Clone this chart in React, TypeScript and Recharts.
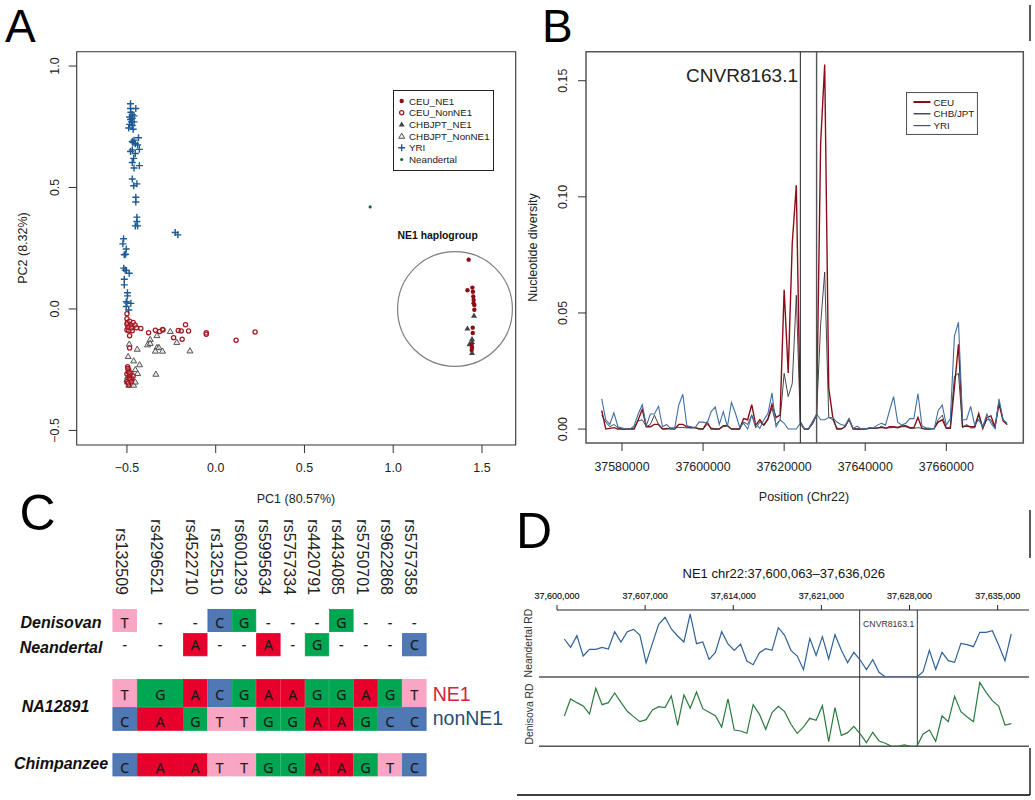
import React from 'react';
import {
  ScatterChart, Scatter, LineChart, Line, XAxis, YAxis, ReferenceArea, ReferenceDot, ReferenceLine, Legend,
} from 'recharts';

const FONT = '"Liberation Sans", Arial, sans-serif';

// ---------- Panel A ----------
const yriPoints = [
  [-0.48,0.845],[-0.45,0.825],[-0.48,0.825],[-0.47,0.8],[-0.485,0.79],[-0.46,0.795],[-0.48,0.78],[-0.46,0.77],[-0.485,0.76],[-0.47,0.755],[-0.49,0.745],[-0.465,0.74],[-0.475,0.77],[-0.47,0.785],[-0.478,0.81],
  [-0.47,0.69],[-0.46,0.695],[-0.435,0.705],[-0.453,0.68],[-0.44,0.675],[-0.43,0.657],[-0.48,0.648],[-0.453,0.64],[-0.462,0.62],[-0.47,0.603],[-0.43,0.59],[-0.46,0.58],[-0.466,0.685],[-0.47,0.655],
  [-0.47,0.535],[-0.444,0.515],[-0.462,0.507],[-0.45,0.46],[-0.45,0.44],[-0.444,0.378],[-0.444,0.36],[-0.453,0.342],[-0.44,0.342],
  [-0.228,0.315],[-0.213,0.305],
  [-0.519,0.289],[-0.523,0.268],[-0.504,0.247],[-0.515,0.223],[-0.508,0.225],
  [-0.518,0.168],[-0.504,0.158],[-0.487,0.147],[-0.515,0.122],[-0.515,0.099],[-0.497,0.067],[-0.497,0.054],[-0.504,0.03],[-0.478,0.023],[-0.504,0.01],[-0.49,-0.004],[-0.51,0.16],[-0.5,0.025],
];
const ceuNonNe1Points = [
  [-0.5,-0.02],[-0.5,-0.04],[-0.497,-0.056],[-0.49,-0.07],[-0.5,-0.087],[-0.485,-0.11],[-0.478,-0.066],[-0.465,-0.056],[-0.454,-0.066],[-0.446,-0.077],[-0.422,-0.08],[-0.47,-0.09],[-0.49,-0.09],[-0.495,-0.075],[-0.5,-0.062],[-0.485,-0.05],[-0.475,-0.078],
  [-0.378,-0.098],[-0.34,-0.088],[-0.316,-0.093],[-0.297,-0.087],[-0.299,-0.084],[-0.211,-0.089],[-0.194,-0.091],[-0.17,-0.065],[-0.153,-0.091],[-0.237,-0.118],[-0.189,-0.125],[-0.053,-0.098],[-0.053,-0.104],[0.115,-0.129],[0.222,-0.095],[-0.485,-0.161],
  [-0.496,-0.238],[-0.49,-0.25],[-0.5,-0.268],[-0.485,-0.276],[-0.472,-0.286],[-0.465,-0.276],[-0.48,-0.295],[-0.49,-0.313],[-0.493,-0.258],[-0.478,-0.265],[-0.488,-0.285],[-0.5,-0.3],[-0.495,-0.245],[-0.487,-0.262],[-0.483,-0.29],[-0.492,-0.305],[-0.475,-0.3],
];
const chbNonNe1Points = [
  [-0.487,-0.144],[-0.442,-0.165],[-0.493,-0.195],[-0.462,-0.213],[-0.429,-0.229],[-0.453,-0.249],[-0.44,-0.265],[-0.337,-0.268],[-0.331,-0.109],[-0.369,-0.125],[-0.384,-0.147],[-0.369,-0.141],[-0.331,-0.158],[-0.32,-0.158],[-0.34,-0.173],[-0.3,-0.173],[-0.256,-0.092],[-0.219,-0.137],[-0.145,-0.172],[-0.496,-0.279],[-0.496,-0.3],[-0.462,-0.313],[-0.49,-0.313],[-0.453,-0.3],[-0.5,-0.29],
];
const ceuNe1Points = [
  [1.425,0.203],[1.446,0.088],[1.418,0.077],[1.449,0.071],[1.451,0.051],[1.453,0.037],[1.453,0.023],[1.457,0.016],[1.457,-0.003],[1.448,-0.077],[1.448,-0.099],[1.442,-0.148],[1.444,-0.159],[1.442,-0.169],
];
const chbNe1Points = [
  [1.455,-0.027],[1.418,-0.08],[1.444,-0.124],[1.43,-0.144],[1.444,-0.135],[1.444,-0.18],
];
const neandertalPoints = [[0.87, 0.42]];
const pcXTicks = [-0.5, 0, 0.5, 1, 1.5];
const pcYTicks = [-0.5, 0, 0.5, 1];
const haplogroupCircle = { x: 1.348, y: 0 };

const RED = '#8b0d18';
const BLUE = '#1f5a96';
const GREY = '#555555';
const GREEN = '#0b6b2c';

const toXY = (pts: number[][]) => pts.map(([x, y]) => ({ x, y }));

type Kind = 'filledCircle' | 'openCircle' | 'filledTri' | 'openTri' | 'plus' | 'dot';
const Marker = ({ kind, cx, cy }: { kind: Kind; cx: number; cy: number }) => {
  const tri = `M${cx},${cy - 3} L${cx + 3},${cy + 2.2} L${cx - 3},${cy + 2.2} Z`;
  switch (kind) {
    case 'filledCircle': return <circle cx={cx} cy={cy} r={2.2} fill={RED} />;
    case 'openCircle': return <circle cx={cx} cy={cy} r={2.1} fill="#fff" fillOpacity={0.2} stroke="#a3151f" strokeWidth={1.25} />;
    case 'filledTri': return <path d={tri} fill="#444" />;
    case 'openTri': return <path d={tri} fill="#ddd" fillOpacity={0.6} stroke={GREY} strokeWidth={1} />;
    case 'plus': return <path d={`M${cx - 3.5},${cy} H${cx + 3.5} M${cx},${cy - 3.5} V${cy + 3.5}`} stroke={BLUE} strokeWidth={1.4} fill="none" />;
    default: return <circle cx={cx} cy={cy} r={1.6} fill={GREEN} />;
  }
};
const shapeOf = (kind: Kind) => (p: any) => <Marker kind={kind} cx={p.cx} cy={p.cy} />;

const pcLegend: [Kind, string][] = [
  ['filledCircle', 'CEU_NE1'], ['openCircle', 'CEU_NonNE1'], ['filledTri', 'CHBJPT_NE1'],
  ['openTri', 'CHBJPT_NonNE1'], ['plus', 'YRI'], ['dot', 'Neandertal'],
];

const PcLegendBox = () => (
  <svg width={101} height={81} style={{ display: 'block' }}>
    <rect x={0.5} y={0.5} width={100} height={80} fill="#fff" stroke="#222" strokeWidth={1} />
    {pcLegend.map(([k, t], i) => (
      <g key={t}>
        <Marker kind={k} cx={8.7} cy={11 + i * 11.7} />
        <text x={16} y={11 + i * 11.7} dominantBaseline="central" fontSize={9.8} fontFamily={FONT} fill="#222">{t}</text>
      </g>
    ))}
  </svg>
);

const XTick = ({ x, y, payload, dy, fmt }: any) => (
  <text x={x} y={y + dy} textAnchor="middle" dominantBaseline="central" fontSize={12.4} fontFamily={FONT} fill="#222">
    {fmt ? fmt(payload.value) : payload.value}
  </text>
);
const YTick = ({ x, y, payload, dx, fmt }: any) => (
  <text x={x + dx} y={y} textAnchor="middle" dominantBaseline="central" fontSize={12.4} fontFamily={FONT} fill="#222"
    transform={`rotate(-90 ${x + dx} ${y})`}>
    {fmt(payload.value)}
  </text>
);
const AxisTitle = ({ tx, ty, rotate, text }: any) => (
  <text x={tx} y={ty} textAnchor="middle" dominantBaseline="central" fontSize={12.5} fontFamily={FONT} fill="#222"
    transform={rotate ? `rotate(-90 ${tx} ${ty})` : undefined}>
    {text}
  </text>
);
const pcFmtX = (v: number) => (v < 0 ? `\u2212${Math.abs(v).toFixed(1)}` : v.toFixed(1));

const PanelA = () => (
  <div style={{ position: 'absolute', left: 0, top: 0 }}>
    <ScatterChart width={525} height={515} margin={{ top: 51.7, left: 16.7, right: 9.3, bottom: 40 }}>
      <XAxis type="number" dataKey="x" domain={[-0.783, 1.69]} ticks={pcXTicks} interval={0} allowDataOverflow
        height={30} axisLine={false} tickSize={8} tickLine={{ stroke: '#333' }} tickMargin={0}
        tick={<XTick dy={15} fmt={pcFmtX} />}
        label={<AxisTitle tx={296} ty={499} text="PC1 (80.57%)" />} />
      <YAxis type="number" dataKey="y" domain={[-0.56, 1.059]} ticks={pcYTicks} interval={0} allowDataOverflow
        width={60} axisLine={false} tickSize={8} tickLine={{ stroke: '#333' }} tickMargin={0}
        tick={<YTick dx={-13.7} fmt={pcFmtX} />}
        label={<AxisTitle tx={23} ty={248} rotate text="PC2 (8.32%)" />} />
      <ReferenceArea x1={-0.783} x2={1.69} y1={-0.56} y2={1.059} fill="none" stroke="#333" strokeWidth={1.1} fillOpacity={0} />
      <ReferenceDot x={haplogroupCircle.x} y={haplogroupCircle.y} r={57.4} fill="none" stroke="#808080" strokeWidth={1.2} />
      <Scatter name="YRI" data={toXY(yriPoints)} shape={shapeOf('plus')} isAnimationActive={false} />
      <Scatter name="CHBJPT_NonNE1" data={toXY(chbNonNe1Points)} shape={shapeOf('openTri')} isAnimationActive={false} />
      <Scatter name="CEU_NonNE1" data={toXY(ceuNonNe1Points)} shape={shapeOf('openCircle')} isAnimationActive={false} />
      <Scatter name="CHBJPT_NE1" data={toXY(chbNe1Points)} shape={shapeOf('filledTri')} isAnimationActive={false} />
      <Scatter name="CEU_NE1" data={toXY(ceuNe1Points)} shape={shapeOf('filledCircle')} isAnimationActive={false} />
      <Scatter name="Neandertal" data={toXY(neandertalPoints)} shape={shapeOf('dot')} isAnimationActive={false} />
      <Legend layout="vertical" align="center" verticalAlign="middle" content={<PcLegendBox />}
        wrapperStyle={{ left: 393, top: 90, width: 101, height: 81 }} />
    </ScatterChart>
  </div>
);

// ---------- Panel B ----------
const diversityStart = 37575000;
const diversityStep = 1000;
const ceuDiversity = [
  .008,0,.0003,.0006,0,0,0,0,0,.004,.0085,.001,.001,.002,.002,0,.0003,0,0,.002,.002,.001,.0007,.0007,0,0,.003,0,0,0,.0015,.0015,0,0,0,.0045,.004,.0105,.0017,.004,.0017,.0045,.0107,.005,.006,.06,.0242,.08,.105,.003,0,0,.003,.006,.123,.157,.0175,.005,0,0,.001,.0043,0,0,0,0,.0003,.0003,.0005,.0007,.0003,.001,.001,.0007,.0013,.0014,.0006,.0006,.005,.0003,0,0,.0003,.003,.004,.0003,.0003,.018,.0365,.001,.0013,.001,.001,.0067,.0003,.005,.0057,.001,.011,.0035,.002,
];
const chbDiversity = [
  .006,.003,.001,.002,.0005,0,0,0,.0005,.0035,.004,.001,.002,.006,.002,0,0,.0005,.0005,.0007,.0007,.0005,.0005,.0005,.0003,0,.002,.0005,0,0,.001,.0013,0,0,0,.003,.002,.006,.0005,.003,.0015,.004,.009,.002,.004,.024,.014,.0196,.0576,.002,0,0,.002,.006,.045,.0676,.005,.004,.0005,0,.001,.004,.0003,0,0,0,.0003,.0003,.0003,.0012,.0005,.0005,.0007,.0005,.001,.001,.0003,.0003,.0006,.0003,0,0,.0003,.004,.006,.0003,.001,.0228,.024,.0006,.002,.0005,.0005,.006,.0005,.004,.004,.0003,.012,.004,.002,
];
const yriDiversity = [
  .013,.004,.002,.007,.001,.0005,0,0,.0015,.0065,.0105,.0015,.0065,.0065,.0098,.001,.002,.0003,.0003,.0103,.015,.0014,.001,.0005,.003,.003,.0025,.0075,.0095,.002,.0075,.001,.0115,.0067,.001,.0025,0,.006,.0025,.0003,.004,.0067,.0156,.001,.004,.0025,0,0,0,.0025,.0003,0,.003,.0065,.004,.004,.005,.005,.003,.002,.0015,.0045,.0003,.0013,0,0,.0007,.0005,.0017,.0025,.0017,.008,.014,.003,.0017,.0025,.0045,.0045,.0153,.0013,.0006,.0003,0,.008,.0103,.0017,.0045,.04,.046,.004,.004,.0098,.0017,.004,.001,.0065,.0025,.0003,.013,.004,.0025,
];
const diversityRows = yriDiversity.map((yri, i) => ({
  pos: diversityStart + i * diversityStep, ceu: ceuDiversity[i], chb: chbDiversity[i], yri,
}));
const posTicks = [37580000, 37600000, 37620000, 37640000, 37660000];
const divTicks = [0, 0.05, 0.1, 0.15];
const cnvBounds = [37624000, 37628000];
const divLegend = [
  { name: 'CEU', color: RED, w: 2 },
  { name: 'CHB/JPT', color: '#222', w: 1.2 },
  { name: 'YRI', color: BLUE, w: 1.2 },
];
const DivLegendBox = () => (
  <svg width={72} height={43} style={{ display: 'block' }}>
    <rect x={0.5} y={0.5} width={71} height={42} fill="#fff" stroke="#555" strokeWidth={1.1} />
    {divLegend.map((l, i) => (
      <g key={l.name}>
        <line x1={7.5} x2={24.5} y1={10 + i * 11.8} y2={10 + i * 11.8} stroke={l.color} strokeWidth={l.w} />
        <text x={27.5} y={10 + i * 11.8} dominantBaseline="central" fontSize={9.8} fontFamily={FONT} fill="#222">{l.name}</text>
      </g>
    ))}
  </svg>
);

const PanelB = () => (
  <div style={{ position: 'absolute', left: 525, top: 0 }}>
    <LineChart width={510} height={515} data={diversityRows} margin={{ top: 51.7, left: 11, right: 11.7, bottom: 42 }}>
      <XAxis type="number" dataKey="pos" domain={[37571122, 37678990]} ticks={posTicks} interval={0} allowDataOverflow
        height={30} axisLine={false} tickSize={8} tickLine={{ stroke: '#333' }} tickMargin={0}
        tick={<XTick dy={16} />}
        label={<AxisTitle tx={279} ty={497} text="Position (Chr22)" />} />
      <YAxis type="number" domain={[-0.006, 0.1625]} ticks={divTicks} interval={0} allowDataOverflow
        width={50} axisLine={false} tickSize={8} tickLine={{ stroke: '#333' }} tickMargin={0}
        tick={<YTick dx={-15} fmt={(v: number) => v.toFixed(2)} />}
        label={<AxisTitle tx={8} ty={247.5} rotate text="Nucleotide diversity" />} />
      <ReferenceArea x1={37571122} x2={37678990} y1={-0.006} y2={0.1625} fill="none" fillOpacity={0} stroke="#555" strokeWidth={1.5} />
      <Line dataKey="ceu" stroke={RED} strokeWidth={1.4} dot={false} isAnimationActive={false} />
      <Line dataKey="chb" stroke="#333" strokeWidth={0.9} dot={false} isAnimationActive={false} />
      <Line dataKey="yri" stroke="#3f6fa3" strokeWidth={1.1} dot={false} isAnimationActive={false} />
      <ReferenceLine x={cnvBounds[0]} stroke="#333" strokeWidth={1.1} />
      <ReferenceLine x={cnvBounds[1]} stroke="#555" strokeWidth={1.4} />
      <Legend layout="vertical" align="center" verticalAlign="middle" content={<DivLegendBox />}
        wrapperStyle={{ left: 380.5, top: 92, width: 72, height: 43 }} />
    </LineChart>
  </div>
);

// ---------- Panel C ----------
const rsIds = ['rs132509','rs4296521','rs4522710','rs132510','rs6001293','rs5995634','rs5757334','rs4420791','rs4434085','rs5750701','rs9622868','rs5757358'];
const columnPos = [0, 1.463, 2.902, 3.906, 4.906, 5.906, 6.906, 7.906, 8.906, 9.906, 10.906, 11.906];
const columnSpan = [1, 1.92, 1, 1, 1, 1, 1, 1, 1, 1, 1, 1];
const denisovan = ['T','-','-','C','G','-','-','-','G','-','-','-'];
const neandertal = ['-','-','A','-','-','A','-','G','-','-','-','C'];
const na12891Ne1 = ['T','G','A','C','G','A','A','G','G','A','G','T'];
const na12891Non = ['C','A','G','T','T','G','G','A','A','G','C','C'];
const chimpanzee = ['C','A','A','T','T','G','G','A','A','G','T','C'];
const seqRows = [
  { bases: denisovan, y: 0.863, h: 0.97, ty: 0.07 },
  { bases: neandertal, y: 1.883, h: 0.97, ty: 0 },
  { bases: na12891Ne1, y: 3.916, h: 1.18, ty: 0.05 },
  { bases: na12891Non, y: 5.01, h: 0.99, ty: 0.1 },
  { bases: chimpanzee, y: 6.94, h: 0.97, ty: 0.1 },
];
const rowNames = [
  { name: 'Denisovan', y: 0.956 }, { name: 'Neandertal', y: 2.02 },
  { name: 'NA12891', y: 4.49 }, { name: 'Chimpanzee', y: 6.9 },
];
const baseFill: Record<string, string> = { A: '#e8002d', C: '#4f78b5', G: '#00a651', T: '#f9a6c4' };
const baseEdge: Record<string, string> = { A: '#e8002d', C: '#3f66a8', G: '#00a651', T: '#f5a0c0' };
const seqCells = seqRows.flatMap((r) => r.bases.map((base, c) => ({
  x: columnPos[c], y: r.y, base, span: columnSpan[c], h: r.h, ty: r.ty,
})));
const UNIT_X = 24.33;
const UNIT_Y = 23.75;
const SeqCell = (p: any) => {
  const { cx, cy, payload: d } = p;
  const w = d.span * UNIT_X;
  const h = d.h * UNIT_Y;
  const ty = cy + d.ty * UNIT_Y;
  return (
    <g>
      {d.base !== '-' && (
        <rect x={cx - w / 2 + 0.4} y={cy - h / 2 + 0.4} width={w - 0.8} height={h - 0.8} fill={baseFill[d.base]} stroke={baseEdge[d.base]} strokeWidth={0.8} />
      )}
      <text x={cx} y={ty} textAnchor="middle" dominantBaseline="central" fontSize={14} fontFamily='"Open Sans", sans-serif' fontWeight={500} fill="#1a1a1a" stroke="#1a1a1a" strokeWidth={0.25}>{d.base}</text>
    </g>
  );
};
const RsTick = ({ x, payload, index }: any) => {
  const i = columnPos.indexOf(payload.value);
  const tx = x - 3.5;
  return (
    <text x={tx} y={85} textAnchor="end" dominantBaseline="central" fontSize={16} fontFamily={FONT} fill="#222"
      transform={`rotate(90 ${tx} 85)`}>{rsIds[i >= 0 ? i : index]}</text>
  );
};
const RowTick = ({ y, payload }: any) => {
  const r = rowNames.find((n) => n.y === payload.value);
  return (
    <text x={r && r.name === 'NA12891' ? 55.5 : 61} y={y} textAnchor="middle" dominantBaseline="central" fontSize={16}
      fontWeight="bold" fontStyle="italic" fontFamily={FONT} fill="#111">{r ? r.name : ''}</text>
  );
};
const PanelC = () => (
  <div style={{ position: 'absolute', left: 0, top: 510 }}>
    <ScatterChart width={440} height={280} margin={{ top: 0, left: 0, right: 10, bottom: 0 }}>
      <XAxis xAxisId={0} orientation="top" type="number" dataKey="x" domain={[-1.015, 12.55]} ticks={columnPos} interval={0}
        height={90} axisLine={false} tickLine={false} tick={<RsTick />} allowDataOverflow />
      <YAxis type="number" dataKey="y" reversed domain={[0, 8]} ticks={rowNames.map((r) => r.y)} interval={0}
        width={100} axisLine={false} tickLine={false} tick={<RowTick />} allowDataOverflow />
      <Scatter data={seqCells} shape={SeqCell} isAnimationActive={false} />
    </ScatterChart>
  </div>
);

// ---------- Panel D ----------
const rdStart = 37600580;
const rdStep = 500;
const neandertalRd = [57,44.5,62,31.5,41.5,41.5,44.5,42,68,52.5,68,71.5,63,21.5,50.5,79,89.5,72,61.5,52.5,94.5,50,52.5,26.5,37,68,49.5,40,49.5,24,18.5,36.5,42.5,40,74,62.5,40,31.5,11,58,32.5,60.5,27,63.5,40.5,21.5,37,25.5,11,26,7,0,0,0,0,0,0,8,40,11.5,37,24.5,22,50.5,48.5,45.5,67,67,69.5,48,24.5,64.5];
const denisovaRd = [45.5,71,65.5,60.5,48.5,87,62.5,65.5,80,66,52.5,44.5,37,40,54.5,59.5,58,75.5,31.5,77,57,81.5,56.5,51,46,29,71,24.5,23,19.5,62.5,48,25.5,50.5,60,52,33,19.5,29,42,39,61,7,58,16.5,20.5,30,18.5,5.5,21,8,4.5,0,0,2,0,0,18.5,24.5,7.5,45.5,37,75,52,44,37,96,81,68.5,60.5,32,34];
const rdRows = neandertalRd.map((n, i) => ({ pos: rdStart + i * rdStep, n, d: denisovaRd[i] }));
const rdTicks = [37600000, 37607000, 37614000, 37621000, 37628000, 37635000];
const rdDomain = [37598570, 37637490];
const rdBounds = [37624040, 37628620];
const RdTick = ({ x, y, payload }: any) => (
  <text x={x} y={y - 9.3} textAnchor="middle" dominantBaseline="central" fontSize={9} fontFamily={FONT} fill="#111" stroke="#111" strokeWidth={0.15}>
    {payload.value.toLocaleString('en-US')}
  </text>
);
const PanelD = () => (
  <>
    <div style={{ position: 'absolute', left: 515, top: 570 }}>
      <LineChart width={520} height={110} data={rdRows} margin={{ top: 0, left: 24, right: 6, bottom: 3 }}>
        <XAxis orientation="top" type="number" dataKey="pos" domain={rdDomain} ticks={rdTicks} interval={0} allowDataOverflow
          height={40} axisLine={false} tickSize={5} tickLine={{ stroke: '#222' }} tickMargin={0} tick={<RdTick />} />
        <YAxis hide type="number" domain={[0, 100.5]} allowDataOverflow />
        <ReferenceLine segment={[{ x: rdTicks[0], y: 100.5 }, { x: rdDomain[1], y: 100.5 }]} stroke="#222" strokeWidth={1} />
        <ReferenceLine y={0} stroke="#555" strokeWidth={1.5} />
        <ReferenceLine x={rdBounds[0]} stroke="#333" strokeWidth={1} />
        <ReferenceLine x={rdBounds[1]} stroke="#333" strokeWidth={1} />
        <Line dataKey="n" stroke="#2f6299" strokeWidth={1.2} dot={false} isAnimationActive={false} />
      </LineChart>
    </div>
    <div style={{ position: 'absolute', left: 515, top: 677 }}>
      <LineChart width={520} height={75} data={rdRows} margin={{ top: 0, left: 24, right: 6, bottom: 5.7 }}>
        <XAxis hide type="number" dataKey="pos" domain={rdDomain} allowDataOverflow />
        <YAxis hide type="number" domain={[0, 104]} allowDataOverflow />
        <ReferenceLine y={0} stroke="#555" strokeWidth={1.5} />
        <ReferenceLine x={rdBounds[0]} stroke="#333" strokeWidth={1} />
        <ReferenceLine x={rdBounds[1]} stroke="#333" strokeWidth={1} />
        <Line dataKey="d" stroke="#2b7a3e" strokeWidth={1.2} dot={false} isAnimationActive={false} />
      </LineChart>
    </div>
  </>
);

// ---------- Page annotations ----------
const panelLetters = [
  { t: 'A', x: 5, y: 42, s: 46 }, { t: 'B', x: 542, y: 42, s: 46 }, { t: 'C', x: 19.5, y: 530, s: 50 }, { t: 'D', x: 516, y: 548, s: 50 },
];
const Annotations = () => (
  <>
    <svg width={1035} height={800} style={{ position: 'absolute', left: 0, top: 0, pointerEvents: 'none' }}>
      {panelLetters.map((l) => (
        <text key={l.t} x={l.x} y={l.y} fontSize={l.s} fontFamily={FONT} fill="#000">{l.t}</text>
      ))}
      <text x={437.7} y={235} textAnchor="middle" dominantBaseline="central" fontSize={10.4} fontWeight="bold" fontFamily={FONT} fill="#111">NE1 haplogroup</text>
      <text x={798} y={75} textAnchor="end" dominantBaseline="central" fontSize={19} fontFamily={FONT} fill="#222">CNVR8163.1</text>
      <text x={432.7} y={693.5} dominantBaseline="central" fontSize={19.5} fontFamily={FONT} fill="#d4213d">NE1</text>
      <text x={432.7} y={718} dominantBaseline="central" fontSize={19.5} fontFamily={FONT} fill="#1f4e79">nonNE1</text>
      <text x={783.7} y={573} textAnchor="middle" dominantBaseline="central" fontSize={13} fontFamily={FONT} fill="#111">NE1 chr22:37,600,063–37,636,026</text>
      <text x={888.7} y={624} textAnchor="middle" dominantBaseline="central" fontSize={8.7} fontFamily={FONT} fill="#333">CNVR8163.1</text>
      <text x={528} y={643} textAnchor="middle" dominantBaseline="central" fontSize={10.4} fontFamily={FONT} fill="#333" transform="rotate(-90 528 643)">Neandertal RD</text>
      <text x={529} y={714} textAnchor="middle" dominantBaseline="central" fontSize={10.4} fontFamily={FONT} fill="#333" transform="rotate(-90 529 714)">Denisova RD</text>
      <path d="M1030,5 V41 M1030,510 V558 M1030,748 V795 M517,795 H1030" stroke="#000" strokeWidth={1.3} fill="none" />
    </svg>
  </>
);

export default function App() {
  return (
    <div style={{ position: 'absolute', left: 0, top: 0, width: 1035, height: 800, background: '#fff', overflow: 'hidden' }}>
      <PanelA />
      <PanelB />
      <PanelC />
      <PanelD />
      <Annotations />
    </div>
  );
}
